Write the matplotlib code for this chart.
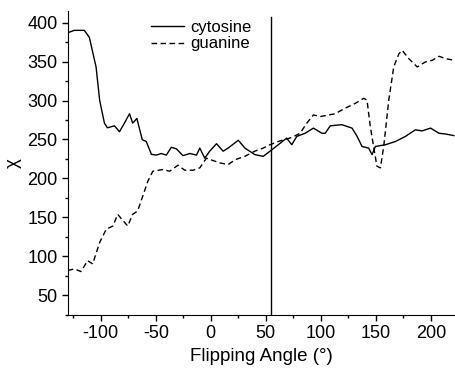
import matplotlib
matplotlib.use('Agg')
import matplotlib.pyplot as plt
from matplotlib.ticker import MultipleLocator

plt.rcParams['font.family'] = ['Liberation Sans', 'DejaVu Sans']
plt.rcParams['axes.unicode_minus'] = False

# cytosine (solid)
cyt_x = [-130, -124, -115, -110.4, -104.3, -101, -96.7, -94, -87.6, -83, -78.5, -73.9,
         -71, -67.2, -62.3, -58.7, -54, -49.5, -45, -40.4, -35.9, -31.3, -25.3, -19,
         -13, -10, -5.5, -1, 5.2, 11.2, 15.8, 25, 31, 40, 47.7, 53.8, 61.4, 69, 73.6,
         78.2, 85.8, 93.3, 101, 104, 108.6, 119, 128.4, 133, 137.5, 143.5, 146.6,
         149.6, 158.8, 168, 177, 186, 192, 199.8, 207.4, 213.5, 221]
cyt_y = [387, 390, 390, 381, 343, 300, 271, 265, 267.5, 260, 271, 283,
         271, 277, 249.7, 247.5, 231, 230, 232, 230, 240, 238, 229.3, 232,
         230, 239, 226, 235, 244.6, 235, 239, 249, 239, 230.6, 228.4, 235, 243.3, 251.8, 243.3,
         254, 258, 264.6, 258, 258, 267.5, 269, 264.6, 254, 241, 239, 230.6,
         241, 243.3, 247.5, 254, 262.4, 261, 264.6, 258, 257, 255]

# guanine (dashed)
gua_x = [-130, -124, -118, -112, -107.4, -101, -95, -89, -84.6, -81.5, -75.5, -71,
         -66.5, -61.8, -57.2, -52.7, -43.5, -37.4, -29.8, -23.7, -16, -10, -4, 2,
         8.2, 15.8, 22, 31, 40, 47.7, 53.8, 61.4, 73.6, 81.2, 87.3, 93.3, 99.5, 113,
         122, 131.4, 139, 142, 145, 148, 151, 154.2, 157.2, 161.8, 166.3, 171, 174,
         180, 187.7, 195, 201.4, 207.4, 213.5, 221]
gua_y = [82, 84, 80.6, 94.6, 90.4, 118, 135, 139, 154, 148.7, 139, 154,
         158.4, 177.5, 196.6, 209.3, 211.5, 209.3, 217, 210.6, 210.6, 213.6, 226, 223,
         220, 217.8, 224, 228.4, 235, 239, 243.3, 247.5, 252.6, 258, 271, 281.5, 279.4, 283,
         290, 296.4, 302.8, 300.6, 266.6, 241, 215.7, 213.6, 241, 300.6, 343, 360, 364.3,
         353.7, 343, 349.4, 351.6, 356.7, 353.7, 351.6]

magic_angle = 54.7

fig = plt.figure(figsize=(4.55, 3.74), dpi=100)
ax = fig.add_axes([0.149, 0.158, 0.851, 0.813])

ax.plot(cyt_x, cyt_y, color='k', lw=1.0, label='cytosine')
ax.plot(gua_x, gua_y, color='k', lw=1.0, ls=(0, (4, 2.5)), label='guanine')
ax.axvline(magic_angle, ymax=0.98, color='k', lw=1.0)

ax.set_xlim(-130, 222)
ax.set_ylim(25, 415)
ax.xaxis.set_major_locator(MultipleLocator(50))
ax.xaxis.set_minor_locator(MultipleLocator(25))
ax.yaxis.set_major_locator(MultipleLocator(50))
ax.yaxis.set_minor_locator(MultipleLocator(25))
ax.tick_params(which='major', direction='out', length=4, width=1, labelsize=13)
ax.tick_params(which='minor', direction='out', length=2.5, width=1)

for s in ['top', 'right']:
    ax.spines[s].set_visible(False)

ax.set_xlabel('Flipping Angle (°)', fontsize=13.5)
ax.set_ylabel('χ', fontsize=13.5)

ax.legend(loc='upper left', bbox_to_anchor=(0.175, 1.02), frameon=False,
          fontsize=12, handlelength=2.0, handletextpad=0.4, labelspacing=0.1)

fig.savefig('out.png', dpi=100)
